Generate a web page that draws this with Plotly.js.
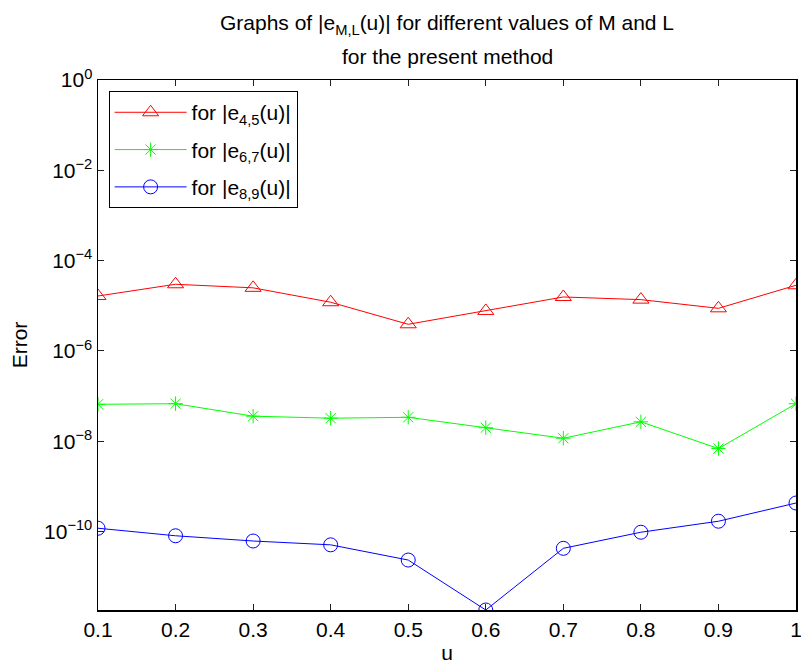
<!DOCTYPE html>
<html>
<head>
<meta charset="utf-8">
<script src="https://cdn.plot.ly/plotly-3.0.1.min.js"></script>
<style>html,body{margin:0;padding:0;background:#fff;}#chart{width:801px;height:664px;}</style>
</head>
<body>
<div id="chart"></div>
<script>
const u = [0.1, 0.2, 0.3, 0.4, 0.5, 0.6, 0.7, 0.8, 0.9, 1.0];
const e45 = [1.65e-5, 3.0e-5, 2.5e-5, 1.2e-5, 3.9e-6, 7.7e-6, 1.57e-5, 1.37e-5, 8.8e-6, 2.85e-5];
const e67 = [6.6e-8, 6.8e-8, 3.6e-8, 3.25e-8, 3.4e-8, 2.0e-8, 1.17e-8, 2.7e-8, 6.9e-9, 6.8e-8];
const e89 = [1.19e-10, 8.1e-11, 6.2e-11, 5.1e-11, 2.35e-11, 1.84e-12, 4.27e-11, 9.7e-11, 1.7e-10, 4.3e-10];
const xTickVals = [0.1, 0.2, 0.3, 0.4, 0.5, 0.6, 0.7, 0.8, 0.9, 1];
const xTickText = ['0.1', '0.2', '0.3', '0.4', '0.5', '0.6', '0.7', '0.8', '0.9', '1'];
const yTickVals = [1, 1e-2, 1e-4, 1e-6, 1e-8, 1e-10];
const yTickText = ['10<sup>0</sup>', '10<sup>−2</sup>', '10<sup>−4</sup>', '10<sup>−6</sup>', '10<sup>−8</sup>', '10<sup>−10</sup>'];
const names = ['for |e<sub>4,5</sub>(u)|', 'for |e<sub>6,7</sub>(u)|', 'for |e<sub>8,9</sub>(u)|'];

const FONT = 'Liberation Sans, Arial, Helvetica, sans-serif';
const FS = 21;

const traces = [
  {x: u, y: e45, name: names[0], legendgroup: 'a', mode: 'lines+markers',
   line: {color: '#ff0000', width: 1},
   marker: {symbol: 'triangle-up-open', size: 14, color: '#ff0000', line: {color: '#ff0000', width: 1}}},
  {x: u, y: e67, name: names[1], legendgroup: 'b', mode: 'lines+markers',
   line: {color: '#00ff00', width: 1},
   marker: {symbol: 'asterisk-open', size: 12, color: '#00ff00', line: {color: '#00ff00', width: 1}}},
  {x: u, y: e89, name: names[2], legendgroup: 'c', mode: 'lines+markers',
   line: {color: '#0000ff', width: 1},
   marker: {symbol: 'circle-open', size: 14, color: '#0000ff', line: {color: '#0000ff', width: 1}}}
];

const yMin = Math.log10(Math.min(...e89));

const layout = {
  width: 801, height: 664,
  paper_bgcolor: '#fff', plot_bgcolor: '#fff',
  font: {family: FONT, size: FS, color: '#000'},
  margin: {l: 98, r: 5, t: 80, b: 54, pad: 0},
  title: {text: 'Graphs of |e<sub>M,L</sub>(u)| for different values of M and L',
          font: {family: FONT, size: FS, color: '#000'},
          x: 0.5, xref: 'paper', xanchor: 'center', y: 1 - 23/664, yref: 'container', yanchor: 'middle'},
  annotations: [{text: 'for the present method', xref: 'paper', yref: 'paper', x: 0.5, y: 1 + 23/530,
                 xanchor: 'center', yanchor: 'middle', showarrow: false,
                 font: {family: FONT, size: FS, color: '#000'}}],
  showlegend: true,
  legend: {x: 0.0152, y: 0.979, xanchor: 'left', yanchor: 'top', bgcolor: '#fff',
           bordercolor: '#000', borderwidth: 1, font: {family: FONT, size: FS, color: '#000'},
           itemwidth: 72, tracegroupgap: 7, traceorder: 'grouped'},
  xaxis: {range: [0.1, 1], tickvals: xTickVals, ticktext: xTickText, ticks: 'inside', ticklen: 6,
          tickcolor: '#222', showline: true, linecolor: '#000', linewidth: 1.5, mirror: 'ticks',
          showgrid: false, zeroline: false, ticklabeloverflow: 'allow',
          title: {text: 'u', font: {family: FONT, size: FS}, standoff: 6},
          tickfont: {family: FONT, size: FS}},
  yaxis: {type: 'log', range: [yMin, 0], tickvals: yTickVals, ticktext: yTickText, ticks: 'inside', ticklen: 6,
          tickcolor: '#222', showline: true, linecolor: '#000', linewidth: 1.5, mirror: 'ticks',
          showgrid: false, zeroline: false,
          title: {text: 'Error', font: {family: FONT, size: FS}, standoff: 10},
          tickfont: {family: FONT, size: FS}}
};

Plotly.newPlot('chart', traces, layout, {displayModeBar: false, staticPlot: true});
</script>
</body>
</html>
